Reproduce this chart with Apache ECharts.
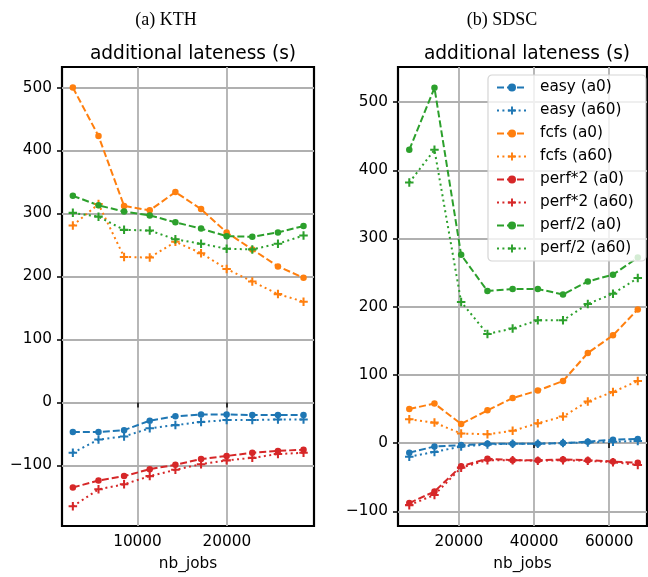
<!doctype html>
<html><head><meta charset="utf-8"></head>
<body style="margin:0;width:648px;height:577px;background:#fff">
<div id="container" style="width:648px;height:577px"></div>
<script src="https://cdn.jsdelivr.net/npm/echarts@6/dist/echarts.min.js"></script>
<script>
// x values (nb_jobs) per trace
var kthNbJobs = [2770, 5640, 8500, 11370, 14240, 17110, 19970, 22840, 25710, 28570];
var sdscNbJobs = [6800, 13500, 20600, 27600, 34300, 41000, 47700, 54300, 61000, 67600];

// KTH, additional lateness (s)
var kthEasyA0 = [-47, -47, -44, -29, -22, -19, -19, -20, -20, -20];
var kthEasyA60 = [-80, -59, -54, -41, -36, -31, -28, -28, -27, -27];
var kthFcfsA0 = [500, 423, 312, 305, 334, 307, 270, 243, 216, 198];
var kthFcfsA60 = [281, 315, 231, 230, 255, 237, 212, 192, 172, 160];
var kthPerfx2A0 = [-135, -124, -117, -106, -99, -90, -85, -80, -77, -75];
var kthPerfx2A60 = [-165, -138, -130, -117, -107, -98, -92, -88, -82, -80];
var kthPerfd2A0 = [328, 313, 303, 297, 286, 276, 264, 263, 270, 280];
var kthPerfd2A60 = [301, 295, 274, 273, 259, 252, 244, 243, 252, 265];

// SDSC, additional lateness (s)
var sdscEasyA0 = [-14, -5, -3, -1, -1, -1, 0, 2, 5, 6];
var sdscEasyA60 = [-20, -13, -5, -2, -1, -1, 0, 1, 2, 3];
var sdscFcfsA0 = [50, 58, 28, 48, 66, 77, 91, 132, 158, 196];
var sdscFcfsA60 = [35, 30, 14, 13, 18, 29, 39, 61, 75, 91];
var sdscPerfx2A0 = [-88, -71, -34, -23, -25, -25, -24, -25, -27, -29];
var sdscPerfx2A60 = [-91, -76, -36, -25, -25, -26, -25, -26, -28, -32];
var sdscPerfd2A0 = [430, 521, 276, 223, 226, 226, 218, 237, 247, 272];
var sdscPerfd2A60 = [382, 430, 207, 160, 168, 180, 180, 204, 219, 242];

// tick labels
var kthXTicks = [10000, 20000];
var sdscXTicks = [20000, 40000, 60000];
var yTicks = [-100, 0, 100, 200, 300, 400, 500];

var names = ['easy (a0)', 'easy (a60)', 'fcfs (a0)', 'fcfs (a60)',
             'perf*2 (a0)', 'perf*2 (a60)', 'perf/2 (a0)', 'perf/2 (a60)'];
var colors = ['#1f77b4', '#1f77b4', '#ff7f0e', '#ff7f0e', '#d62728', '#d62728', '#2ca02c', '#2ca02c'];
var kthSets = [kthEasyA0, kthEasyA60, kthFcfsA0, kthFcfsA60, kthPerfx2A0, kthPerfx2A60, kthPerfd2A0, kthPerfd2A60];
var sdscSets = [sdscEasyA0, sdscEasyA60, sdscFcfsA0, sdscFcfsA60, sdscPerfx2A0, sdscPerfx2A60, sdscPerfd2A0, sdscPerfd2A60];

var PLUS = 'path://M3.8,0 H6.2 V3.8 H10 V6.2 H6.2 V10 H3.8 V6.2 H0 V3.8 H3.8 Z';
var FONT = 'DejaVu Sans';

function pair(xs, ys) {
    return xs.map(function (x, i) { return [x, ys[i]]; });
}
function minus(v) { return String(v).replace('-', '\u2212'); }

function makeX(idx, min, max, ticks) {
    return {
        gridIndex: idx, type: 'value', min: min, max: max,
        name: 'nb_jobs', nameLocation: 'middle', nameGap: 31,
        nameTextStyle: {fontFamily: FONT, fontSize: 15.3, color: '#000'},
        axisLine: {show: false},
        axisTick: {show: true, inside: false, length: 5, customValues: ticks,
                   lineStyle: {color: '#000', width: 1.5}},
        axisLabel: {customValues: ticks, margin: 9, fontFamily: FONT, fontSize: 15.3, color: '#000',
                    formatter: minus},
        splitLine: {show: true, lineStyle: {color: '#b0b0b0', width: 1.8}}
    };
}
function makeY(idx, min, max) {
    return {
        gridIndex: idx, type: 'value', min: min, max: max,
        axisLine: {show: false},
        axisTick: {show: true, inside: false, length: 5, customValues: yTicks,
                   lineStyle: {color: '#000', width: 1.5}},
        axisLabel: {customValues: yTicks, margin: 10, fontFamily: FONT, fontSize: 15.3, color: '#000',
                    formatter: minus},
        splitLine: {show: true, lineStyle: {color: '#b0b0b0', width: 1.8}}
    };
}

var series = [];
function addSeries(idx, xs, sets) {
    sets.forEach(function (ys, i) {
        var dotted = i % 2 === 1;
        series.push({
            name: names[i], type: 'line', xAxisIndex: idx, yAxisIndex: idx,
            data: pair(xs, ys),
            symbol: dotted ? PLUS : 'circle',
            symbolSize: dotted ? 8.5 : 6.5,
            showAllSymbol: true,
            lineStyle: {color: colors[i], width: 2, type: dotted ? [2, 3.4] : [7, 3]},
            itemStyle: {color: colors[i]},
            emphasis: {disabled: true},
            animation: false
        });
    });
}
addSeries(0, kthNbJobs, kthSets);
addSeries(1, sdscNbJobs, sdscSets);

var dom = document.getElementById('container');
var myChart = echarts.init(dom, null, {renderer: 'canvas'});
var option = {
    backgroundColor: '#fff',
    animation: false,
    title: [
        {text: '(a) KTH', left: 161, top: 6, textAlign: 'center',
         textStyle: {fontFamily: 'Liberation Serif', fontSize: 18, fontWeight: 'normal', color: '#000'}},
        {text: '(b) SDSC', left: 497, top: 6, textAlign: 'center',
         textStyle: {fontFamily: 'Liberation Serif', fontSize: 18, fontWeight: 'normal', color: '#000'}},
        {text: 'additional lateness (s)', left: 188, top: 40, textAlign: 'center',
         textStyle: {fontFamily: FONT, fontSize: 18.6, fontWeight: 'normal', color: '#000'}},
        {text: 'additional lateness (s)', left: 522, top: 40, textAlign: 'center',
         textStyle: {fontFamily: FONT, fontSize: 18.6, fontWeight: 'normal', color: '#000'}}
    ],
    legend: {
        data: names, orient: 'vertical', left: 488, top: 75,
        itemWidth: 30, itemHeight: 10, itemGap: 8,
        padding: [5, 12, 5, 8],
        backgroundColor: 'rgba(255,255,255,0.8)', borderColor: '#d5d5d5', borderWidth: 1.2, borderRadius: 4,
        textStyle: {fontFamily: FONT, fontSize: 15.3, lineHeight: 15, color: '#000', padding: [0, 0, 0, 8]},
        selectedMode: false
    },
    grid: [
        {left: 62, top: 67, width: 252, height: 460, show: true, borderColor: '#000', borderWidth: 2.2,
         backgroundColor: 'transparent'},
        {left: 398, top: 67, width: 249, height: 460, show: true, borderColor: '#000', borderWidth: 2.2,
         backgroundColor: 'transparent'}
    ],
    xAxis: [makeX(0, 1557, 29742, kthXTicks), makeX(1, 3798, 70053, sdscXTicks)],
    yAxis: [makeY(0, -196.2, 532.6), makeY(1, -121.6, 551.5)],
    series: series
};
myChart.setOption(option);
</script>
</body></html>
